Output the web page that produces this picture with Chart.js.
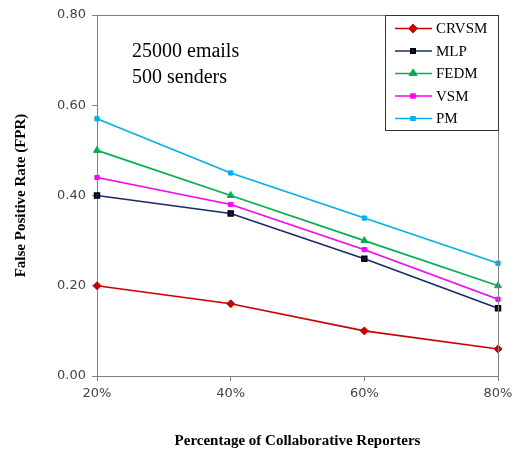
<!DOCTYPE html>
<html>
<head>
<meta charset="utf-8">
<script src="https://cdn.jsdelivr.net/npm/chart.js@4/dist/chart.umd.min.js"></script>
<style>
  html, body { margin: 0; padding: 0; background: #fff; }
  #wrap { width: 512px; height: 450px; position: relative; }
</style>
</head>
<body>
<div id="wrap"><canvas id="chart" width="512" height="450"></canvas></div>
<script>
// ─── Data ────────────────────────────────────────────────────────
const categories = ['20%', '40%', '60%', '80%'];
const seriesNames = ['CRVSM', 'MLP', 'FEDM', 'VSM', 'PM'];
const crvsm = [0.20, 0.16, 0.10, 0.06];
const mlp   = [0.40, 0.36, 0.26, 0.15];
const fedm  = [0.50, 0.40, 0.30, 0.20];
const vsm   = [0.44, 0.38, 0.28, 0.17];
const pm    = [0.57, 0.45, 0.35, 0.25];
const yTicks = [0, 0.2, 0.4, 0.6, 0.8];
const noteLines = ['25000 emails', '500 senders'];

// ─── Styles ──────────────────────────────────────────────────────
const lineColors   = ['#cc0000', '#1a2a6c', '#00b050', '#ff00ff', '#00b0f0'];
const markerFill   = ['#cc0000', '#0a1a4a', '#00b050', '#ff00ff', '#00b0f0'];
const markerBorder = ['#cc0000', '#000000', '#00b050', '#ff00ff', '#00b0f0'];
const markerStyle  = ['rectRot', 'rect', 'triangle', 'rect', 'rect'];
const markerRadius = [4, 3.5, 4, 3, 3];
const AXIS = '#808080';
const SERIF = '"Liberation Serif", "Times New Roman", serif';
const SANS = '"DejaVu Sans", Verdana, sans-serif';

const allData = [crvsm, mlp, fedm, vsm, pm];
const datasets = seriesNames.map((name, i) => ({
  label: name,
  data: allData[i],
  borderColor: lineColors[i],
  backgroundColor: markerFill[i],
  pointBackgroundColor: markerFill[i],
  pointBorderColor: markerBorder[i],
  pointBorderWidth: i === 1 ? 1.5 : 1,
  pointStyle: markerStyle[i],
  pointRadius: markerRadius[i],
  borderWidth: 1.6,
  tension: 0
}));

// box + note + legend drawn over the chart area
const extras = {
  id: 'extras',
  afterDatasetsDraw(chart) {
    const { ctx, chartArea: a } = chart;
    ctx.save();
    // plot frame (top/right)
    ctx.strokeStyle = AXIS;
    ctx.lineWidth = 1;
    ctx.beginPath();
    ctx.moveTo(a.left, a.top + 0.5);
    ctx.lineTo(a.right + 0.5, a.top + 0.5);
    ctx.lineTo(a.right + 0.5, a.bottom);
    ctx.stroke();

    // note
    ctx.fillStyle = '#000';
    ctx.font = '20px ' + SERIF;
    ctx.textBaseline = 'alphabetic';
    ctx.textAlign = 'left';
    noteLines.forEach((t, i) => ctx.fillText(t, 132, 57 + i * 26));

    // legend
    const lx = 385, ly = 15, lw = a.right - lx, lh = 115;
    ctx.fillStyle = '#fff';
    ctx.fillRect(lx, ly, lw, lh);
    ctx.strokeStyle = '#333';
    ctx.lineWidth = 1;
    ctx.strokeRect(lx + 0.5, ly + 0.5, lw, lh);
    ctx.font = '15px ' + SERIF;
    ctx.textBaseline = 'middle';
    seriesNames.forEach((name, i) => {
      const y = 28.5 + i * 22.5;
      ctx.strokeStyle = lineColors[i];
      ctx.lineWidth = 1.6;
      ctx.beginPath();
      ctx.moveTo(395, y);
      ctx.lineTo(432, y);
      ctx.stroke();
      Chart.helpers.drawPoint(ctx, {
        pointStyle: markerStyle[i], radius: markerRadius[i] - 0.5, rotation: 0, borderWidth: 1
      }, 413, y);
      ctx.fillStyle = markerFill[i];
      ctx.strokeStyle = markerBorder[i];
      ctx.fill();
      ctx.stroke();
      ctx.fillStyle = '#000';
      ctx.fillText(name, 436, y + 1);
    });
    ctx.restore();
  }
};

new Chart(document.getElementById('chart'), {
  type: 'line',
  data: { labels: categories, datasets },
  plugins: [extras],
  options: {
    responsive: false,
    animation: false,
    layout: { padding: { top: 15, right: 14, left: 0, bottom: 0 } },
    plugins: { legend: { display: false }, tooltip: { enabled: false } },
    scales: {
      x: {
        offset: false,
        grid: { display: true, drawOnChartArea: false, drawTicks: true, tickLength: 5, tickColor: AXIS },
        border: { color: AXIS, width: 1 },
        ticks: { color: '#444', font: { family: SANS, size: 13 }, padding: 5, maxRotation: 0 },
        title: {
          display: true, text: 'Percentage of Collaborative Reporters', color: '#000',
          font: { family: SERIF, size: 15, weight: 'bold' }, padding: { top: 0, bottom: 0 }
        },
        afterFit(s) { s.height = 74; s.paddingRight = 0; s.paddingLeft = 0; }
      },
      y: {
        min: 0, max: 0.8,
        afterBuildTicks(s) { s.ticks = yTicks.map(v => ({ value: v })); },
        grid: { display: true, drawOnChartArea: false, drawTicks: true, tickLength: 5, tickColor: AXIS },
        border: { color: AXIS, width: 1 },
        ticks: {
          color: '#444', font: { family: SANS, size: 13 }, padding: 6,
          callback: v => Number(v).toFixed(2)
        },
        title: {
          display: true, text: 'False Positive Rate (FPR)', color: '#000',
          font: { family: SERIF, size: 15, weight: 'bold' }, padding: { top: 12, bottom: 0 }
        },
        afterFit(s) { s.width = 97; s.paddingTop = 0; s.paddingBottom = 0; }
      }
    }
  }
});
</script>
</body>
</html>
